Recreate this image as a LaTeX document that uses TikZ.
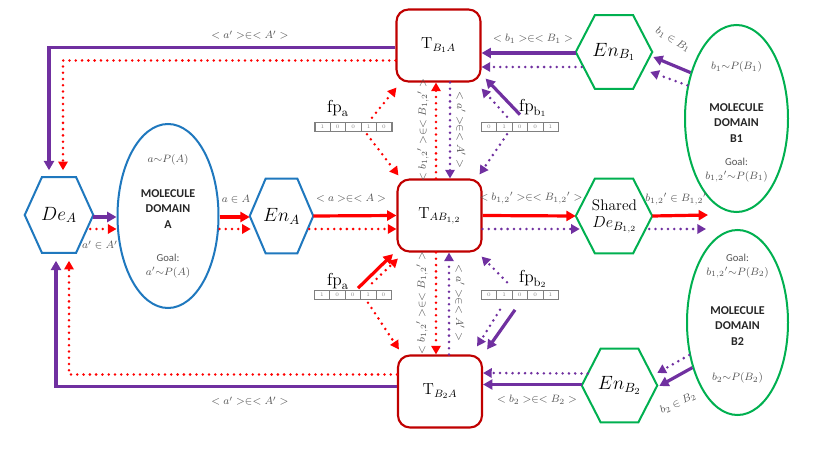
\documentclass[tikz,border=0pt]{standalone}
\usepackage{fontspec}
\newfontfamily\carl{Carlito}
\usetikzlibrary{arrows.meta,calc,shapes.geometric}
\definecolor{pur}{RGB}{112,48,160}
\definecolor{rd}{RGB}{255,0,0}
\definecolor{dred}{RGB}{192,0,0}
\definecolor{blu}{RGB}{31,120,190}
\definecolor{grn}{RGB}{0,176,80}
\definecolor{txtg}{RGB}{85,85,85}
\newcommand\hexdraw[2]{\draw[#2] (#1.west) -- ($(#1.north west)!0.25!(#1.north east)$) -- ($(#1.north west)!0.75!(#1.north east)$) -- (#1.east) -- ($(#1.south west)!0.75!(#1.south east)$) -- ($(#1.south west)!0.25!(#1.south east)$) -- cycle;}
\newcommand\fpbits[4]{%
  \node[fpbar] (#1) at (#2,#3) {};
  \foreach \b [count=\i] in {#4} {
    \node[bitcell] (#1-\i) at ($(#1.west)+(\i*15.4-7.7,0)$) {\b};
  }
}
\tikzset{
  tbox/.style={draw=dred, line width=1.6pt, rounded corners=9pt, minimum width=63pt, minimum height=54pt, fill=white, font=\fontsize{12}{14}\selectfont},
  hexn/.style={inner sep=0pt, font=\fontsize{14}{16}\selectfont, align=center},
  ell/.style={ellipse, line width=1.5pt},
  lbl/.style={text=txtg, font=\fontsize{8}{9}\selectfont, inner sep=1pt},
  mol/.style={font=\carl\bfseries\fontsize{9}{11.6}\selectfont, align=center, text=black!85, inner sep=0pt},
  goal/.style={font=\carl\fontsize{8}{10.5}\selectfont, align=center, text=txtg, inner sep=0pt},
  sarr/.style={line width=2.4pt, -{Triangle[length=7pt,width=7.5pt]}},
  darr/.style={line width=2.1pt, line cap=round, dash pattern=on 0pt off 4.7pt, -{Triangle[length=6.5pt,width=7pt]}},
  fpbar/.style={draw=gray, line width=0.5pt, minimum width=57.75pt, minimum height=6.75pt, inner sep=0pt},
  bitcell/.style={draw=gray, line width=0.4pt, minimum width=11.55pt, minimum height=6.75pt, inner sep=0pt, text=gray, font=\fontsize{4}{4}\selectfont},
  fpl/.style={font=\fontsize{13}{14}\selectfont, inner sep=0pt}
}
\begin{document}
\begin{tikzpicture}[x=0.75pt,y=-0.75pt]
\useasboundingbox (0,0) rectangle (825,449);
\fill[white] (0,0) rectangle (825,449);

% T boxes
\node[tbox] (tb1) at (438.5,45.5) {$\mathrm{T}_{B_1A}$};
\node[tbox] (tab) at (439.5,215.5) {$\mathrm{T}_{AB_{1,2}}$};
\node[tbox] (tb2) at (440,391.5) {$\mathrm{T}_{B_2A}$};

% hexagons
\node[hexn, minimum width=51pt, minimum height=56.25pt] (dea) at (59,215) {$De_A$};
\node[hexn, minimum width=47.25pt, minimum height=55.5pt] (enA) at (281.5,216) {$En_A$};
\node[hexn, minimum width=57pt, minimum height=54.75pt] (enB1) at (614,52) {$En_{B_1}$};
\node[hexn, minimum width=57pt, minimum height=55.5pt] (shared) at (614,216) {};
\node[hexn, minimum width=56.25pt, minimum height=54.75pt] (enB2) at (619.5,385.5) {$En_{B_2}$};
\node[inner sep=0pt, font=\fontsize{11.5}{13}\selectfont] (sharedt) at (614.5,205) {Shared};
\node[inner sep=0pt, font=\fontsize{12.5}{14}\selectfont] (sharedm) at (614.5,225) {$De_{B_{1,2}}$};
\hexdraw{dea}{blu, line width=1.5pt}
\hexdraw{enA}{blu, line width=1.5pt}
\hexdraw{enB1}{grn, line width=1.5pt}
\hexdraw{shared}{grn, line width=1.5pt}
\hexdraw{enB2}{grn, line width=1.5pt}

% ellipses
\node[ell, draw=blu, minimum width=75.75pt, minimum height=138pt] (ellA) at (168,216) {};
\node[lbl] (ellAt) at (168,160) {$a{\sim}P(A)$};
\node[mol] (ellAm) at (168,209) {MOLECULE\\DOMAIN\\A};
\node[goal] (ellAg) at (168,266) {Goal:\\$a'{\sim}P(A)$};

\node[ell, draw=grn, minimum width=77.25pt, minimum height=140.25pt] (ellB1) at (736.5,118.5) {};
\node[lbl] (ellB1t) at (736.5,67) {$b_1{\sim}P(B_1)$};
\node[mol] (ellB1m) at (736.5,123) {MOLECULE\\DOMAIN\\B1};
\node[goal] (ellB1g) at (736.5,170) {Goal:\\${b_{1,2}}'{\sim}P(B_1)$};

\node[ell, draw=grn, minimum width=75.75pt, minimum height=138.75pt] (ellB2) at (737.5,322.5) {};
\node[goal] (ellB2g) at (737.5,266) {Goal:\\${b_{1,2}}'{\sim}P(B_2)$};
\node[mol] (ellB2m) at (737.5,326) {MOLECULE\\DOMAIN\\B2};
\node[lbl] (ellB2t) at (737.5,378) {$b_2{\sim}P(B_2)$};

% fingerprints
\fpbits{fpA1}{353.5}{126.5}{1,0,0,1,0}
\fpbits{fpB1}{520}{126.5}{0,1,0,0,1}
\fpbits{fpA2}{353}{295}{1,0,0,1,0}
\fpbits{fpB2}{520}{295}{0,1,0,0,1}
\node[fpl] (fpA1l) at (338,108) {$\mathrm{fp}_{\mathrm{a}}$};
\node[fpl] (fpB1l) at (533,108) {$\mathrm{fp}_{\mathrm{b}_1}$};
\node[fpl] (fpA2l) at (338,281) {$\mathrm{fp}_{\mathrm{a}}$};
\node[fpl] (fpB2l) at (533,279) {$\mathrm{fp}_{\mathrm{b}_2}$};

% outer loops
\draw[sarr, pur] ($(tb1.west)+(0,2)$) -| ($(dea.north)+(-10,-7)$);
\draw[darr, rd] ($(tb1.west)+(0,15)$) -| ($(dea.north)+(4,-7)$);
\draw[sarr, pur] ($(tb2.west)+(0,-5)$) -| ($(dea.south)+(-3,8)$);
\draw[darr, rd] ($(tb2.west)+(0,-17)$) -| ($(dea.south)+(10,8)$);
\node[lbl] (ltop) at (250,35) {$<a'>\in<A'>$};
\node[lbl] (lbot) at (250,401) {$<a'>\in<A'>$};

% middle row
\draw[sarr, pur] ($(dea.east)+(0,2)$) -- ($(ellA.west)+(0,1)$);
\draw[darr, rd] ($(dea.east)+(-3,14)$) -- ($(ellA.west)+(0,13)$);
\node[lbl] (l1) at (100,245) {$a'\in A'$};
\draw[sarr, rd] ($(ellA.east)+(0,1)$) -- ($(enA.west)+(0,1)$);
\draw[darr, rd] ($(ellA.east)+(0,13)$) -- ($(enA.west)+(1,13)$);
\node[lbl] (l2) at (236,199) {$a\in A$};
\draw[sarr, rd] (enA.east) -- (tab.west);
\draw[darr, rd] ($(enA.east)+(-4,13)$) -- ($(tab.west)+(0,13.5)$);
\node[lbl] (l3) at (351,198) {$<a>\in<A>$};
\draw[sarr, rd] (tab.east) -- (shared.west);
\draw[darr, pur] ($(tab.east)+(0,13.5)$) -- ($(shared.west)+(4,13)$);
\node[lbl] (l4) at (531,198) {$<{b_{1,2}}'>\in<{B_{1,2}}'>$};
\coordinate (outR) at (708,215);
\coordinate (outP) at (706,229);
\draw[sarr, rd] (shared.east) -- (outR);
\draw[darr, pur] ($(shared.east)+(-3,13)$) -- (outP);
\node[lbl] (l5) at (676,199) {${b_{1,2}}'\in {B_{1,2}}'$};

% top right
\draw[sarr, pur] ($(enB1.west)+(0,1)$) -- ($(tb1.east)+(0,7.5)$);
\draw[darr, pur] ($(enB1.west)+(6,15)$) -- ($(tb1.east)+(0,21.5)$);
\node[lbl] (l6) at (533,39) {$<b_1>\in<B_1>$};
\draw[sarr, pur] (ellB1.135) -- ($(enB1.east)+(1,5)$);
\draw[darr, pur] (ellB1.146) -- ($(enB1.east)+(-2,20)$);
\node[lbl, rotate=-30, inner sep=0pt] (l7) at (673,40) {$b_1\in B_1$};

% bottom right
\draw[sarr, pur] ($(enB2.west)+(0,-1)$) -- ($(tb2.east)+(0,-7)$);
\draw[darr, pur] ($(enB2.west)+(6,-12)$) -- ($(tb2.east)+(0,-18.5)$);
\node[lbl] (l8) at (537,400) {$<b_2>\in<B_2>$};
\draw[sarr, pur] (ellB2.225) -- ($(enB2.east)+(2,0.5)$);
\draw[darr, pur] (ellB2.214) -- ($(enB2.east)+(0,-12.5)$);
\node[lbl, rotate=25, inner sep=0pt] (l9) at (678,403) {$b_2\in B_2$};

% verticals
\draw[darr, rd] ($(tab.north)+(-3.5,0)$) -- ($(tb1.south)+(-2.5,0)$);
\draw[darr, pur] ($(tb1.south)+(11.5,0)$) -- ($(tab.north)+(10.5,0)$);
\node[lbl, rotate=90] (v1) at (423,130) {$<{b_{1,2}}'>\in<{B_{1,2}}'>$};
\node[lbl, rotate=-90] (v2) at (461,130) {$<a'>\in<A'>$};
\draw[darr, rd] ($(tab.south)+(-3.5,0)$) -- ($(tb2.north)+(-4,0)$);
\draw[darr, pur] ($(tb2.north)+(9,0)$) -- ($(tab.south)+(9.5,0)$);
\node[lbl, rotate=90] (v3) at (422,303) {$<{b_{1,2}}'>\in<{B_{1,2}}'>$};
\node[lbl, rotate=-90] (v4) at (460,303) {$<a'>\in<A'>$};

% fingerprint arrows
\draw[darr, rd] ($(fpA1.north)+(18.5,-4)$) -- ($(tb1.south west)+(1,5)$);
\draw[darr, rd] ($(fpA1.south)+(13.5,3)$) -- ($(tab.north west)+(2,-3)$);
\draw[sarr, pur] ($(fpB1.north)+(0,-7)$) -- ($(tb1.south east)+(4,-4)$);
\draw[darr, pur] ($(fpB1.north)+(-13,-5)$) -- ($(tb1.south east)+(0,6)$);
\draw[darr, pur] ($(fpB1.south)+(-13,3)$) -- ($(tab.north east)+(-3,-4)$);
\draw[sarr, rd] ($(fpA2.north)+(5,-2)$) -- ($(tab.south west)+(-3.5,1.5)$);
\draw[darr, rd] ($(fpA2.north)+(19,-7)$) -- ($(tab.south west)+(1.5,6)$);
\draw[darr, rd] ($(fpA2.south)+(15,3)$) -- ($(tb2.north west)+(2,-5)$);
\draw[darr, pur] ($(fpB2.north)+(-13,-8)$) -- ($(tab.south east)+(-1,4)$);
\draw[darr, pur] ($(fpB2.south)+(-20,10)$) -- ($(tb2.north east)+(-6,-8)$);
\draw[sarr, pur] ($(fpB2.south)+(-5,10)$) -- ($(tb2.north east)+(4,-5)$);
\end{tikzpicture}
\end{document}
